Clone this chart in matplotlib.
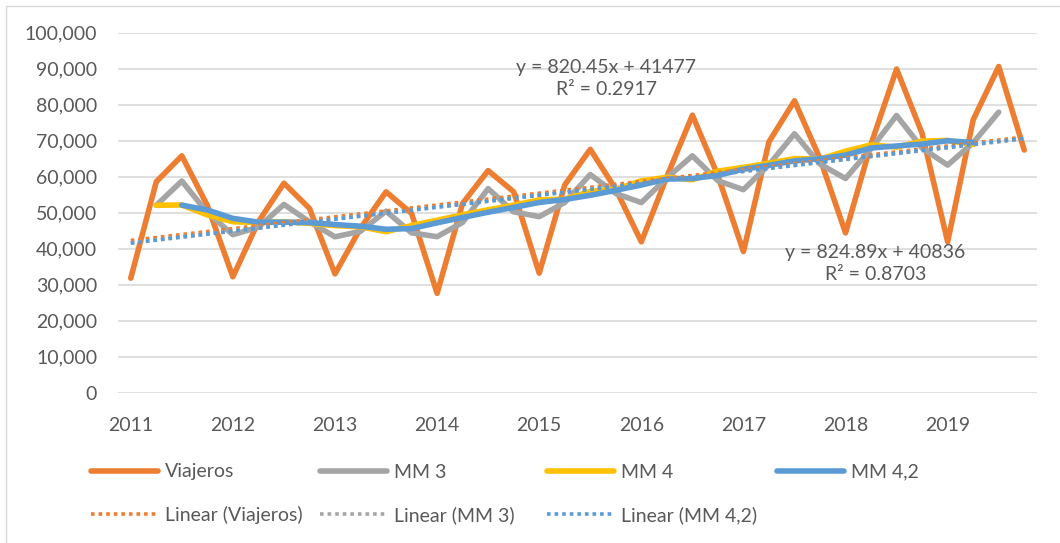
"""
Viajeros por trimestre 2011-2019 con medias moviles y tendencias lineales.
"""

import numpy as np
import pandas as pd
import matplotlib
matplotlib.use('Agg')
import matplotlib.pyplot as plt
from matplotlib.ticker import FuncFormatter
from matplotlib.patches import Rectangle

# data, one value per quarter
years = ['2011', '2012', '2013', '2014', '2015', '2016', '2017', '2018', '2019']
viajeros = [31800, 58600, 65800, 52000, 32200, 47500, 58200, 51200,
            33000, 45700, 55800, 49800, 27600, 52600, 61700, 55800,
            33200, 57700, 67600, 56500, 41900, 60000, 77100, 60300,
            39200, 69700, 81100, 65000, 44400, 69100, 89900, 72000,
            41900, 75800, 90600, 67400]

# trendline equations as printed on the chart
trend_viajeros = (820.45, 41477)
trend_mm3 = (824.89, 40836)
eq_viajeros = 'y = 820.45x + 41477\nR² = 0.2917'
eq_mm3 = 'y = 824.89x + 40836\nR² = 0.8703'

series_labels = ['Viajeros', 'MM 3', 'MM 4', 'MM 4,2']
trend_labels = ['Linear (Viajeros)', 'Linear (MM 3)', 'Linear (MM 4,2)']

ORANGE = '#ED7D31'
GREY = '#A5A5A5'
YELLOW = '#FFC000'
BLUE = '#5B9BD5'
TEXT = '#595959'
GRID = '#D9D9D9'

plt.rcParams['font.family'] = ['Lato', 'DejaVu Sans']
plt.rcParams['font.size'] = 14

# moving averages, laid out as in the worksheet
s = pd.Series(viajeros, dtype=float)
mm3 = s.rolling(3, center=True).mean()
mm4 = s.rolling(4).mean().shift(-2)
mm42 = mm4.rolling(2).mean()

x = np.arange(len(viajeros))
xn = x + 1  # excel numbers the points from 1
mask = mm42.notna().values
coef42 = np.polyfit(xn[mask], mm42.values[mask], 1)

fig = plt.figure(figsize=(10.6, 5.43), dpi=100)
ax = fig.add_axes([118 / 1060, 1 - 392.7 / 543, 919 / 1060, 360 / 543])

solid = dict(lw=4, solid_joinstyle='round', solid_capstyle='round')
h_v, = ax.plot(x, viajeros, color=ORANGE, zorder=3, **solid)
h_3, = ax.plot(x, mm3, color=GREY, zorder=4, **solid)
h_4, = ax.plot(x, mm4, color=YELLOW, zorder=5, **solid)
h_42, = ax.plot(x, mm42, color=BLUE, zorder=6, **solid)

dots = dict(lw=2.6, linestyle=(0, (1, 1.1)), dash_capstyle='butt')
t_v, = ax.plot(x, trend_viajeros[0] * xn + trend_viajeros[1], color=ORANGE, zorder=7, **dots)
t_3, = ax.plot(x, trend_mm3[0] * xn + trend_mm3[1], color=GREY, zorder=8, **dots)
t_42, = ax.plot(x, np.polyval(coef42, xn), color=BLUE, zorder=9, **dots)

# axes styling
ax.set_xlim(-0.5, len(viajeros) - 0.5)
ax.set_ylim(0, 100000)
ax.set_yticks(np.arange(0, 100001, 10000))
ax.yaxis.set_major_formatter(FuncFormatter(lambda v, p: f'{v:,.0f}'))
ax.set_xticks(x[::4])
ax.set_xticklabels(years)
ax.tick_params(axis='both', length=0, colors=TEXT, labelsize=14)
ax.tick_params(axis='y', pad=15)
ax.tick_params(axis='x', pad=17.5)
ax.grid(axis='y', color=GRID, lw=1.2, zorder=0)
ax.set_axisbelow(True)
for sp in ax.spines.values():
    sp.set_visible(False)

# trendline equations
ax.text(18.63, 87400, eq_viajeros, ha='center', va='center', color=TEXT,
        fontsize=14, linespacing=1.35, zorder=10)
ax.text(29.17, 35900, eq_mm3, ha='center', va='center', color=TEXT,
        fontsize=14, linespacing=1.35, zorder=10)

# legend laid out entry by entry like excel does
entries = [(h_v, series_labels[0], 91, 472), (h_3, series_labels[1], 320, 472),
           (h_4, series_labels[2], 547, 472), (h_42, series_labels[3], 777, 472),
           (t_v, trend_labels[0], 91, 515), (t_3, trend_labels[1], 320, 515),
           (t_42, trend_labels[2], 547, 515)]
for handle, label, px, py in entries:
    fig.legend([handle], [label], loc='center left',
               bbox_to_anchor=(px / 1060, 1 - py / 543),
               bbox_transform=fig.transFigure, frameon=False,
               borderpad=0, borderaxespad=0, handlelength=3.45,
               handletextpad=0.35, fontsize=14, labelcolor=TEXT)

# chart area border
fig.patches.append(Rectangle((6 / 1060, -0.05), 1.2, 1 - 6 / 543 + 0.05,
                             transform=fig.transFigure, fill=False,
                             edgecolor=GRID, lw=1.0))

fig.savefig('out.png', dpi=100)
